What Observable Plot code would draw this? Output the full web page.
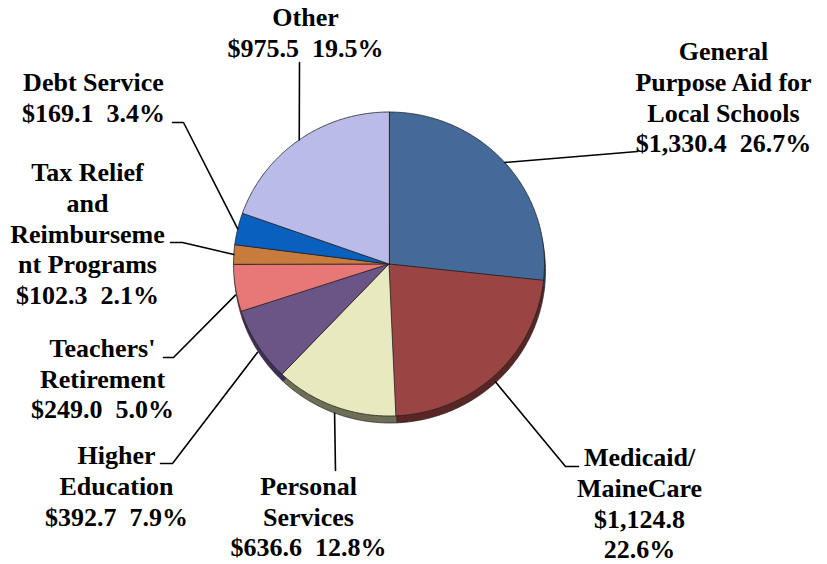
<!DOCTYPE html>
<html>
<head>
<meta charset="utf-8">
<script src="https://cdn.jsdelivr.net/npm/d3@7"></script>
<script src="https://cdn.jsdelivr.net/npm/@observablehq/plot@0.6"></script>
</head>
<body style="margin:0;background:#fff">
<div id="chart"></div>
<script>
// ---- data ----
const categories = [
  "General Purpose Aid for Local Schools",
  "Medicaid/MaineCare",
  "Personal Services",
  "Higher Education",
  "Teachers' Retirement",
  "Tax Relief and Reimbursement Programs",
  "Debt Service",
  "Other"
];
const values = [1330.4, 1124.8, 636.6, 392.7, 249.0, 102.3, 169.1, 975.5];
const percents = [26.7, 22.6, 12.8, 7.9, 5.0, 2.1, 3.4, 19.5];
const labelNames = [
  ["General", "Purpose Aid for", "Local Schools"],
  ["Medicaid/", "MaineCare"],
  ["Personal", "Services"],
  ["Higher", "Education"],
  ["Teachers'", "Retirement"],
  ["Tax Relief", "and", "Reimburseme", "nt Programs"],
  ["Debt Service"],
  ["Other"]
];

// ---- styles / layout ----
const faceColors   = ["#436A99", "#9A4443", "#E9E9C0", "#6B5486", "#E87877", "#C97A3D", "#0A60BE", "#BABBE9"];
const shadowColors = ["#2A4466", "#5A2524", "#6E6E57", "#3F2F56", "#8E4646", "#7A4A25", "#063A73", "#72738F"];
const splitValueLine = [false, true, false, false, false, false, false, false];
const labelX = [723, 639, 308, 116, 102, 87, 93, 305];
const labelFirstY = [51.5, 457.5, 486, 455.5, 348, 172.5, 82, 17.5];
const lineStep = 30.7;
const leaderTail = [
  [[637, 151]],
  [[565, 466], [578, 466]],
  [[335, 470]],
  [[172, 463], [160, 463]],
  [[173, 357], [163, 357]],
  [[182, 242], [170, 242]],
  [[183, 122], [172, 122]],
  [[299, 62]]
];
const pie = {cx: 388.5, cy: 263.5, rx: 155.5, ry: 152, depth: 7, dx: 1};
const FONT = "'Liberation Serif', 'Times New Roman', Times, serif";

// ---- geometry from values ----
const total = d3.sum(values);
const cum = d3.cumsum(values);
const slices = categories.map((name, i) => {
  const a0 = (i === 0 ? 0 : cum[i - 1]) / total * 2 * Math.PI;
  const a1 = cum[i] / total * 2 * Math.PI;
  return {name, i, a0, a1, mid: (a0 + a1) / 2};
});
function ptAt(a, ox = 0, oy = 0) {
  return [pie.cx + ox + pie.rx * Math.sin(a), pie.cy + oy - pie.ry * Math.cos(a)];
}
function wedge(s, ox, oy, color, key) {
  const pts = [{x: pie.cx + ox, y: pie.cy + oy, key, fill: color}];
  const n = Math.max(2, Math.ceil((s.a1 - s.a0) / (Math.PI / 360)));
  for (let k = 0; k <= n; k++) {
    const a = s.a0 + (s.a1 - s.a0) * k / n;
    const [x, y] = ptAt(a, ox, oy);
    pts.push({x, y, key, fill: color});
  }
  return pts;
}
const shadowPts = slices.flatMap(s => wedge(s, pie.dx, pie.depth, shadowColors[s.i], "s" + s.i));
const facePts = slices.flatMap(s => wedge(s, 0, 0, faceColors[s.i], "f" + s.i));

const leaderPts = slices.flatMap(s => {
  let [x, y] = ptAt(s.mid);
  if (Math.cos(s.mid) < 0) y += pie.depth;
  const pts = [{x, y, key: s.name}];
  for (const [tx, ty] of leaderTail[s.i]) pts.push({x: tx, y: ty, key: s.name});
  return pts;
});

const labelRows = slices.flatMap(s => {
  const money = "$" + d3.format(",.1f")(values[s.i]);
  const pct = percents[s.i].toFixed(1) + "%";
  const lines = labelNames[s.i].concat(splitValueLine[s.i] ? [money, pct] : [money + "\u00a0\u00a0" + pct]);
  return lines.map((t, k) => ({x: labelX[s.i], y: labelFirstY[s.i] + k * lineStep, text: t}));
});

const chart = Plot.plot({
  width: 827,
  height: 564,
  margin: 0,
  style: {fontFamily: FONT},
  x: {domain: [0, 827], range: [0, 827], axis: null},
  y: {domain: [0, 564], range: [0, 564], axis: null},
  color: {type: "identity"},
  marks: [
    Plot.line(shadowPts, {x: "x", y: "y", z: "key", fill: "fill", stroke: "#222", strokeWidth: 0.7, curve: "linear-closed"}),
    Plot.line(facePts, {x: "x", y: "y", z: "key", fill: "fill", stroke: "#222", strokeWidth: 0.8, curve: "linear-closed"}),
    Plot.line(leaderPts, {x: "x", y: "y", z: "key", stroke: "black", strokeWidth: 1.6}),
    Plot.text(labelRows, {
      x: "x", y: "y", text: "text",
      fontSize: 26, fontWeight: "bold", fontFamily: "Liberation Serif",
      textAnchor: "middle", lineAnchor: "middle"
    })
  ]
});
// put the font directly on every text element as well
chart.setAttribute("font-family", FONT);
d3.select(chart).selectAll("g, text, tspan")
  .attr("font-family", FONT)
  .style("font-family", FONT);
d3.select(chart).selectAll("text")
  .attr("font-weight", "bold")
  .style("font-weight", "bold");
document.getElementById("chart").appendChild(chart);
</script>
</body>
</html>
